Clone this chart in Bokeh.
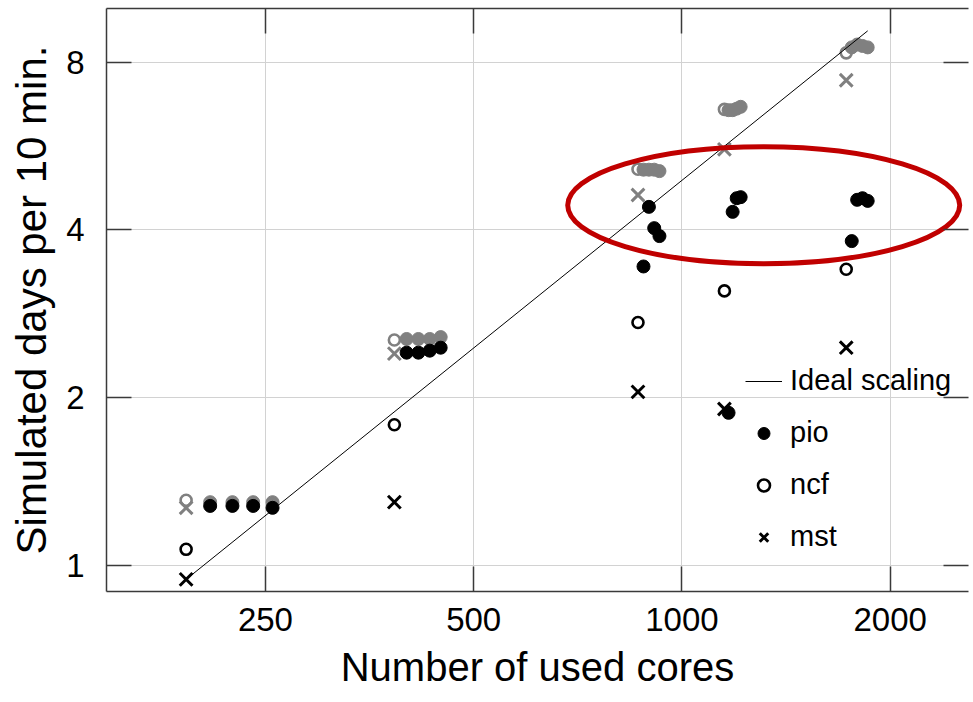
from bokeh.plotting import figure
from bokeh.models import LogAxis, FixedTicker, PrintfTickFormatter, Legend, LegendItem
from bokeh.embed import file_html
from bokeh.resources import INLINE

# ---- data ----
x_ticks = [250, 500, 1000, 2000]
y_ticks = [1, 2, 4, 8]

base_cores = [192, 384, 864, 1152, 1728]
ncf_black = [1.07, 1.79, 2.73, 3.11, 3.40]
mst_black = [0.945, 1.30, 2.05, 1.91, 2.46]
ncf_gray = [1.31, 2.54, 5.14, 6.58, 8.31]
mst_gray = [1.27, 2.40, 4.62, 5.58, 7.42]

pio_cores = [208, 224, 240, 256,
             400, 416, 432, 448,
             880, 896, 912, 928,
             1168, 1184, 1200, 1216,
             1760, 1792, 1824, 1856]
pio_black = [1.28, 1.28, 1.28, 1.27,
             2.41, 2.41, 2.43, 2.46,
             3.44, 4.40, 4.03, 3.90,
             1.88, 4.31, 4.56, 4.58,
             3.82, 4.53, 4.56, 4.51]
pio_gray = [1.30, 1.30, 1.30, 1.30,
            2.55, 2.55, 2.55, 2.57,
            5.13, 5.13, 5.13, 5.10,
            6.56, 6.56, 6.60, 6.65,
            8.50, 8.60, 8.55, 8.50]

ideal_cores = [192, 1856]
ideal_days = [0.945, 9.1]

x_title = "Number of used cores"
y_title = "Simulated days per 10 min."

# highlight annotation (red ellipse)
hl_x, hl_y = 1313, 4.43

FONT = "Liberation Sans"
AX = "#3a3a3a"
GRAY = "#808080"

p = figure(width=973, height=702,
           x_axis_type="log", y_axis_type="log",
           x_range=(147.3, 2596), y_range=(0.899, 9.98),
           output_backend="svg", toolbar_location=None,
           min_border_left=106, min_border_top=8, min_border_right=5,
           min_border_bottom=111)
p.outline_line_color = None
p.background_fill_color = "white"
p.border_fill_color = "white"

# extra axes (ticks only)
top_ax = LogAxis()
right_ax = LogAxis()
p.add_layout(top_ax, "above")
p.add_layout(right_ax, "right")

for ax in p.xaxis:
    ax.ticker = FixedTicker(ticks=x_ticks)
for ax in p.yaxis:
    ax.ticker = FixedTicker(ticks=y_ticks)

for ax in p.axis:
    ax.major_tick_in = 25
    ax.major_tick_out = 0
    ax.minor_tick_line_color = None
    ax.major_tick_line_color = AX
    ax.major_tick_line_width = 1.5
    ax.axis_line_color = AX
    ax.axis_line_width = 1.5
    ax.major_label_text_font = FONT
    ax.major_label_text_color = "black"
    ax.major_label_text_font_size = "33px"
    ax.axis_label_text_font = FONT
    ax.axis_label_text_font_style = "normal"
    ax.axis_label_text_color = "black"

for ax in (top_ax, right_ax):
    ax.major_label_text_font_size = "1px"
    ax.major_label_text_color = None
    ax.major_label_standoff = 0
right_ax.axis_line_color = None

p.xaxis[0].formatter = PrintfTickFormatter(format="%d")
p.yaxis[0].formatter = PrintfTickFormatter(format="%d")
bottom = p.below[0]
left = p.left[0]
bottom.axis_label = x_title
bottom.axis_label_text_font_size = "40px"
bottom.major_label_standoff = 16
bottom.axis_label_standoff = 11
left.axis_label = y_title
left.axis_label_text_font_size = "42px"
left.major_label_standoff = 22
left.axis_label_standoff = 8

p.xgrid.ticker = FixedTicker(ticks=x_ticks)
p.ygrid.ticker = FixedTicker(ticks=y_ticks)
p.grid.grid_line_color = "#d2d2d2"
p.grid.grid_line_width = 1

# gray series
p.scatter(pio_cores, pio_gray, marker="circle", size=13, fill_color=GRAY, line_color=GRAY)
p.scatter(base_cores, ncf_gray, marker="circle", size=11, fill_color=None, line_color=GRAY, line_width=2.6)
p.scatter(base_cores, mst_gray, marker="x", size=18, line_color=GRAY, line_width=3)

# black series
r_pio = p.scatter(pio_cores, pio_black, marker="circle", size=13, fill_color="black", line_color="black")
r_ncf = p.scatter(base_cores, ncf_black, marker="circle", size=11, fill_color=None, line_color="black", line_width=2.6)
r_mst = p.scatter(base_cores, mst_black, marker="x", size=18, line_color="black", line_width=3)

r_ideal = p.line(ideal_cores, ideal_days, line_color="black", line_width=1)

p.ellipse(x=[hl_x], y=[hl_y], width=392, height=117, width_units="screen",
          height_units="screen", fill_color=None, line_color="#c00000", line_width=5)

legend = Legend(items=[
    LegendItem(label="Ideal scaling", renderers=[r_ideal]),
    LegendItem(label="pio", renderers=[r_pio]),
    LegendItem(label="ncf", renderers=[r_ncf]),
    LegendItem(label="mst", renderers=[r_mst]),
], location=(639, 38))
legend.label_text_font = FONT
legend.label_text_font_size = "29px"
legend.label_text_color = "black"
legend.glyph_width = 37
legend.glyph_height = 30
legend.label_height = 30
legend.spacing = 19
legend.padding = 0
legend.margin = 0
legend.label_standoff = 8
legend.border_line_color = None
legend.background_fill_alpha = 0
p.add_layout(legend)

open("out.html", "w").write(file_html(p, INLINE))
